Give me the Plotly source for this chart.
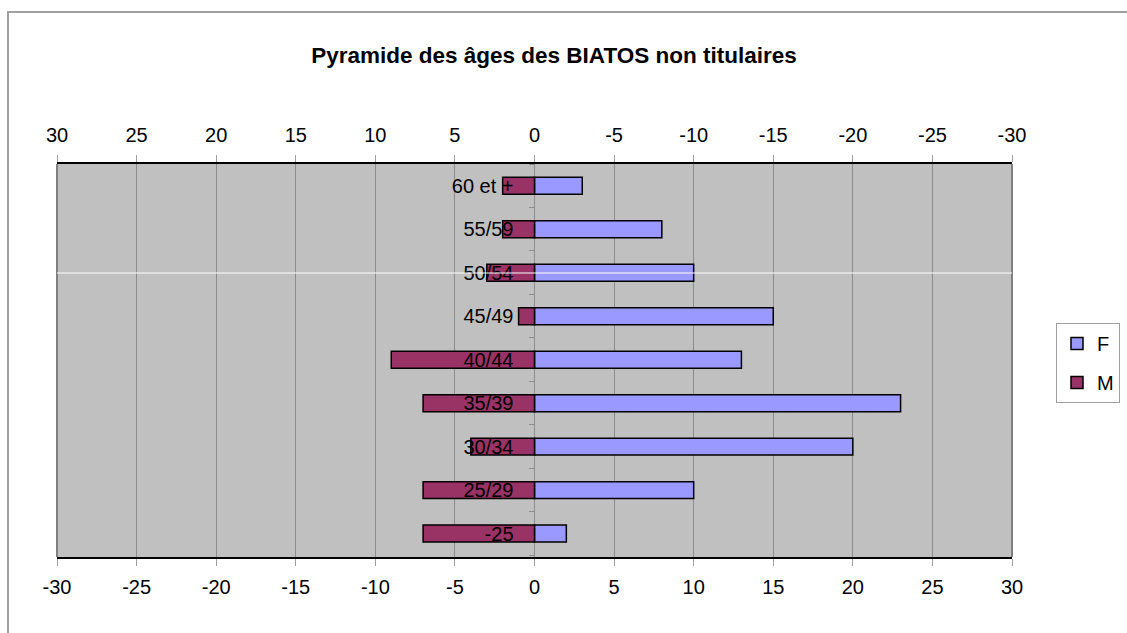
import plotly.graph_objects as go

# Data (bottom to top)
categories = ["-25", "25/29", "30/34", "35/39", "40/44", "45/49", "50/54", "55/59", "60 et +"]
femmes = [2, 10, 20, 23, 13, 15, 10, 8, 3]
hommes = [-7, -7, -4, -7, -9, -1, -3, -2, -2]
x_ticks = [-30, -25, -20, -15, -10, -5, 0, 5, 10, 15, 20, 25, 30]

title_text = "Pyramide des âges des BIATOS non titulaires"

W, H = 1127, 633
L, R, T, B = 57, 1012, 164, 557

def px_x(p):
    return (p - L) / (R - L)

def px_y(p):
    return (B - p) / (B - T)

fig = go.Figure()
fig.add_trace(go.Bar(
    y=categories, x=femmes, orientation="h", name="F", legendgroup="F",
    marker=dict(color="#9999FF", line=dict(color="black", width=1.5)),
))
fig.add_trace(go.Bar(
    y=categories, x=hommes, orientation="h", name="M", legendgroup="M",
    marker=dict(color="#993366", line=dict(color="black", width=1.5)),
))
# invisible trace to activate the top axis
fig.add_trace(go.Scatter(
    x=[0], y=[categories[0]], xaxis="x2", mode="markers",
    marker=dict(opacity=0), showlegend=False, hoverinfo="skip",
))

font_family = "Liberation Sans, Arial, sans-serif"

fig.update_layout(
    width=W, height=H,
    margin=dict(l=L, r=W - R, t=T, b=H - B, autoexpand=False),
    paper_bgcolor="white",
    plot_bgcolor="#C0C0C0",
    barmode="relative",
    bargap=0.61,
    font=dict(family=font_family, size=20, color="black"),
    title=dict(
        text="<b>" + title_text + "</b>",
        x=px_x(554), xanchor="center", xref="paper",
        y=1 - 55 / H, yanchor="middle",
        font=dict(family=font_family, size=22.5, color="black"),
    ),
    xaxis=dict(
        range=[-30, 30], tickvals=x_ticks, ticktext=[str(v) for v in x_ticks],
        showgrid=True, gridcolor="#8C8C8C", gridwidth=1,
        zeroline=False, showline=True, linecolor="black", linewidth=2,
        ticks="outside", ticklen=7, tickcolor="#A0A0A0", tickwidth=1,
        tickfont=dict(size=20), side="bottom", ticklabelstandoff=4,
    ),
    xaxis2=dict(
        range=[30, -30], tickvals=x_ticks, ticktext=[str(v) for v in x_ticks],
        overlaying="x", side="top", anchor="y",
        showgrid=False, zeroline=False, showline=True, linecolor="black", linewidth=2,
        ticks="outside", ticklen=7, tickcolor="#A0A0A0", tickwidth=1,
        tickfont=dict(size=20), ticklabelstandoff=5,
    ),
    yaxis=dict(
        type="category", categoryorder="array", categoryarray=categories,
        anchor="free", position=0.5, side="left",
        showgrid=False, zeroline=False, showline=False,
        ticks="outside", tickson="boundaries", ticklen=6, tickcolor="#8C8C8C",
        tickfont=dict(size=20), ticklabelstandoff=21,
    ),
    legend=dict(
        x=px_x(1056), xanchor="left", y=px_y(323), yanchor="top",
        bgcolor="white", bordercolor="#A0A0A0", borderwidth=1,
        font=dict(size=20), itemwidth=30,
        traceorder="grouped", tracegroupgap=10,
    ),
    shapes=[
        # outer chart border
        dict(type="rect", xref="paper", yref="paper",
             x0=px_x(8), x1=px_x(1135), y0=px_y(645), y1=px_y(12),
             line=dict(color="#A0A0A0", width=2), fillcolor="rgba(0,0,0,0)", layer="below"),
        # plot area side borders
        dict(type="line", xref="paper", yref="paper", x0=0, x1=0, y0=0, y1=1,
             line=dict(color="#808080", width=2)),
        dict(type="line", xref="paper", yref="paper", x0=1, x1=1, y0=0, y1=1,
             line=dict(color="#808080", width=2)),
        # white horizontal line artifact
        dict(type="line", xref="paper", yref="paper", x0=0, x1=1,
             y0=px_y(273), y1=px_y(273), line=dict(color="white", width=1)),
    ],
)

fig.write_html(
    "out.html",
    config={"displayModeBar": False},
    post_script="document.body.style.margin='0';document.body.style.overflow='hidden';",
)
